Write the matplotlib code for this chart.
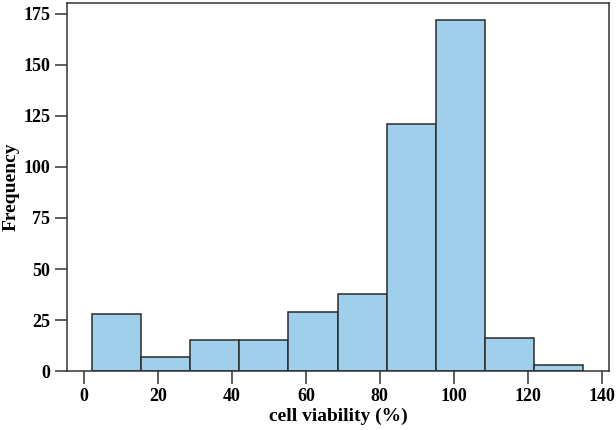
import matplotlib
matplotlib.use("Agg")
import matplotlib.pyplot as plt
import numpy as np

# Data
bin_edges = [2.1, 15.4, 28.7, 42.0, 55.3, 68.6, 81.9, 95.2, 108.5, 121.8, 135.1]
counts = [28, 7, 15, 15, 29, 38, 121, 172, 16, 3]
x_ticks = [0, 20, 40, 60, 80, 100, 120, 140]
y_ticks = [0, 25, 50, 75, 100, 125, 150, 175]
x_label = "cell viability (%)"
y_label = "Frequency"

plt.rcParams['font.family'] = ['Liberation Serif', 'DejaVu Serif']
plt.rcParams['font.weight'] = 'bold'

fig = plt.figure(figsize=(6.16, 4.30), dpi=100)
ax = fig.add_axes([0.1088, 0.137, 0.8798, 0.856])

edges = np.array(bin_edges)
ax.bar(edges[:-1], counts, width=np.diff(edges), align='edge',
       color='#9fcfea', edgecolor='#2b2b2b', linewidth=1.1)

ax.set_xlim(-4.6, 142)
ax.set_ylim(0, 180.3)
ax.set_xticks(x_ticks)
ax.set_yticks(y_ticks)
ax.tick_params(direction='out', length=9, width=1.1, color='#333333',
               labelsize=13, pad=3)
for lab in ax.get_xticklabels() + ax.get_yticklabels():
    lab.set_fontweight('bold')
for s in ax.spines.values():
    s.set_color('#333333')
    s.set_linewidth(1.1)
ax.set_xlabel(x_label, fontsize=14, fontweight='bold')
ax.set_ylabel(y_label, fontsize=14, fontweight='bold')
ax.xaxis.set_label_coords(0.5, -0.099)
ax.yaxis.set_label_coords(-0.088, 0.5)

fig.savefig("out.png", dpi=100)
